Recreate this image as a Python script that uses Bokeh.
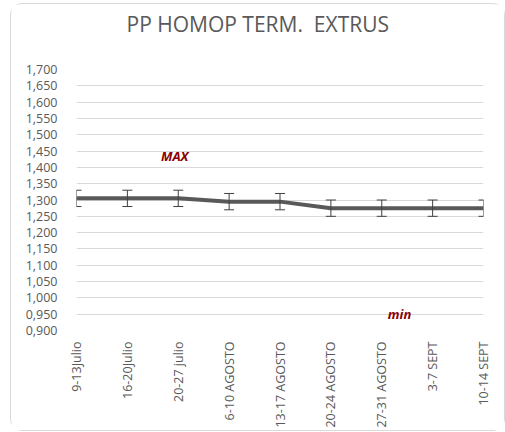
from bokeh.plotting import figure
from bokeh.models import Range1d, FixedTicker, ColumnDataSource, Label, Title
from bokeh.embed import file_html
from bokeh.resources import INLINE
import math

categories = ["9-13Julio", "16-20Julio", "20-27 julio", "6-10 AGOSTO", "13-17 AGOSTO",
              "20-24 AGOSTO", "27-31 AGOSTO", "3-7 SEPT", "10-14 SEPT"]
values = [1.305, 1.305, 1.305, 1.295, 1.295, 1.275, 1.275, 1.275, 1.275]
err = [0.025] * 9
y_ticks = [0.90, 0.95, 1.00, 1.05, 1.10, 1.15, 1.20, 1.25, 1.30, 1.35, 1.40,
           1.45, 1.50, 1.55, 1.60, 1.65, 1.70]
y_labels = ["0,900", "0,950", "1,000", "1,050", "1,100", "1,150", "1,200", "1,250",
            "1,300", "1,350", "1,400", "1,450", "1,500", "1,550", "1,600", "1,650", "1,700"]
title = "PP HOMOP TERM.\u00a0 EXTRUS"
max_label = ("MAX", 1.93, 1.435)
min_label = ("min", 6.35, 0.95)

xs = list(range(len(categories)))
src = ColumnDataSource(dict(x=xs, y=values,
                            lo=[v - e for v, e in zip(values, err)],
                            hi=[v + e for v, e in zip(values, err)]))

W, H = 495, 428
p = figure(width=W, height=H, output_backend="svg", toolbar_location=None,
           x_range=Range1d(0, len(categories) - 1), y_range=Range1d(y_ticks[0], y_ticks[-1]),
           min_border_left=65, min_border_right=23, min_border_top=65, min_border_bottom=102)
p.title.text = ""
# spacer panel next to the frame, pushes the real title upward
p.add_layout(Title(text=" ", text_font_size="1px", standoff=29), "above")
p.add_layout(Title(text=title, align="left", offset=50, standoff=0,
                   text_font="Open Sans", text_font_size="21px", text_font_style="normal",
                   text_color="#595959"), "above")
p.outline_line_color = None
p.background_fill_color = "white"
p.border_fill_color = "white"
p.styles = {"border": "1px solid #d9d9d9", "border-radius": "12px",
            "margin-left": "10px", "margin-top": "3px"}

p.xgrid.grid_line_color = None
p.ygrid.grid_line_color = "#d9d9d9"
p.ygrid.grid_line_width = 1
p.yaxis.ticker = FixedTicker(ticks=y_ticks)
p.yaxis.major_label_overrides = {t: l for t, l in zip(y_ticks, y_labels)}
p.xaxis.ticker = FixedTicker(ticks=xs)
p.xaxis.major_label_overrides = {i: c for i, c in enumerate(categories)}
p.xaxis.major_label_orientation = math.pi / 2
for ax in (p.xaxis, p.yaxis):
    ax.axis_line_color = None
    ax.major_tick_line_color = None
    ax.minor_tick_line_color = None
    ax.major_label_text_font = "Open Sans"
    ax.major_label_text_font_size = "12.5px"
    ax.major_label_text_color = "#595959"
p.yaxis.major_label_standoff = 13
p.xaxis.major_label_standoff = 5

p.line("x", "y", source=src, line_color="#595959", line_width=4)
p.segment(x0="x", y0="lo", x1="x", y1="hi", source=src, line_color="#404040", line_width=1)
p.scatter("x", "lo", source=src, marker="dash", size=10, line_color="#404040", line_width=1)
p.scatter("x", "hi", source=src, marker="dash", size=10, line_color="#404040", line_width=1)

for txt, x, y in (max_label, min_label):
    p.add_layout(Label(x=x, y=y, text=txt, text_align="center", text_baseline="middle",
                       text_color="#8B0000", text_font="Open Sans", text_font_size="13px",
                       text_font_style="bold italic"))

open("out.html", "w").write(file_html(p, INLINE))
